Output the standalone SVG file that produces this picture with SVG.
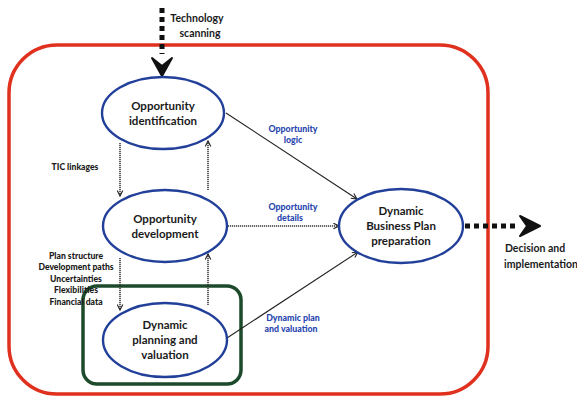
<svg xmlns="http://www.w3.org/2000/svg" width="577" height="398" viewBox="0 0 577 398">
  <defs>
    <marker id="arr" viewBox="0 0 10 10" refX="9" refY="5" markerWidth="7" markerHeight="7" orient="auto" markerUnits="userSpaceOnUse">
      <path d="M1,1 L9,5 L1,9" fill="none" stroke="#222" stroke-width="1.6"/>
    </marker>
  </defs>
  <style>
    .node ellipse { fill: #fff; stroke: #22409a; stroke-width: 2.4; }
    .nlabel { font-family: Lato, "Open Sans", sans-serif; font-weight: bold; font-size: 11.5px; fill: #1a1a1a; text-anchor: middle; }
    .small { font-family: Lato, "Open Sans", sans-serif; font-weight: 900; font-size: 8.6px; fill: #1a1a1a; text-anchor: middle; }
    .blue { font-family: Lato, "Open Sans", sans-serif; font-weight: 900; font-size: 8.8px; fill: #2a48b0; text-anchor: middle; }
    .ext { font-family: Lato, "Open Sans", sans-serif; font-weight: bold; font-size: 10.5px; fill: #1a1a1a; text-anchor: middle; }
    .solid { fill: none; stroke: #222; stroke-width: 1.1; }
    .dot { fill: none; stroke: #333; stroke-width: 1.5; stroke-dasharray: 1.2 0.8; }
    .big { fill: none; stroke: #111; stroke-width: 5; stroke-dasharray: 5 4; }
  </style>

  <!-- outer boundary -->
  <rect x="9" y="45" width="479" height="349" rx="48" ry="48" fill="none" stroke="#e0301e" stroke-width="3.5"/>
  <!-- planning subsystem boundary -->
  <rect x="83" y="286" width="158" height="98" rx="14" ry="14" fill="none" stroke="#1e4a2c" stroke-width="3.5"/>

  <g id="connectors">
    <!-- technology scanning input -->
    <path class="big" d="M162,8 V54"/>
    <path d="M152,58 L162,76 L172,58 L162,66 Z" fill="#111" stroke="#111" stroke-width="2" stroke-linejoin="round"/>
    <!-- vertical links -->
    <path class="dot" d="M120,143 V196" marker-end="url(#arr)"/>
    <path class="dot" d="M208,190 V141" marker-end="url(#arr)"/>
    <path class="dot" d="M120,258 V310" marker-end="url(#arr)"/>
    <path class="dot" d="M208,305 V254" marker-end="url(#arr)"/>
    <!-- links to business plan -->
    <path class="solid" d="M226,113 L357,199" marker-end="url(#arr)"/>
    <path class="dot" d="M228,226 L339,226" marker-end="url(#arr)"/>
    <path class="solid" d="M227,338 L358,252" marker-end="url(#arr)"/>
    <!-- decision output -->
    <path class="big" d="M465,226 H519"/>
    <path d="M520,216 L540,226 L520,236 L527,226 Z" fill="#111" stroke="#111" stroke-width="2" stroke-linejoin="round"/>
  </g>

  <g id="opportunity-identification" class="node">
    <ellipse cx="163" cy="113" rx="61" ry="36"/>
    <text class="nlabel" x="163" y="110">Opportunity</text>
    <text class="nlabel" x="163" y="125">identification</text>
  </g>
  <g id="opportunity-development" class="node">
    <ellipse cx="165" cy="226" rx="62" ry="36"/>
    <text class="nlabel" x="165" y="223">Opportunity</text>
    <text class="nlabel" x="165" y="238">development</text>
  </g>
  <g id="dynamic-planning" class="node">
    <ellipse cx="165" cy="340" rx="62" ry="37"/>
    <text class="nlabel" x="165" y="329">Dynamic</text>
    <text class="nlabel" x="165" y="344">planning and</text>
    <text class="nlabel" x="165" y="359">valuation</text>
  </g>
  <g id="business-plan" class="node">
    <ellipse cx="401" cy="226" rx="62" ry="37"/>
    <text class="nlabel" x="401" y="215">Dynamic</text>
    <text class="nlabel" x="401" y="230">Business Plan</text>
    <text class="nlabel" x="401" y="245">preparation</text>
  </g>

  <g id="labels">
    <text class="ext" x="197" y="22">Technology</text>
    <text class="ext" x="200" y="37">scanning</text>
    <text class="ext" x="535" y="252">Decision and</text>
    <text class="ext" x="541" y="268">implementation</text>

    <text class="small" x="75" y="170">TIC linkages</text>
    <text class="small" x="76" y="259">Plan structure</text>
    <text class="small" x="76" y="270">Development paths</text>
    <text class="small" x="76" y="282">Uncertainties</text>
    <text class="small" x="76" y="293">Flexibilities</text>
    <text class="small" x="76" y="305">Financial data</text>

    <text class="blue" x="293" y="132">Opportunity</text>
    <text class="blue" x="293" y="143">logic</text>
    <text class="blue" x="293" y="210">Opportunity</text>
    <text class="blue" x="290" y="221">details</text>
    <text class="blue" x="293" y="321">Dynamic plan</text>
    <text class="blue" x="291" y="332">and valuation</text>
  </g>
</svg>
